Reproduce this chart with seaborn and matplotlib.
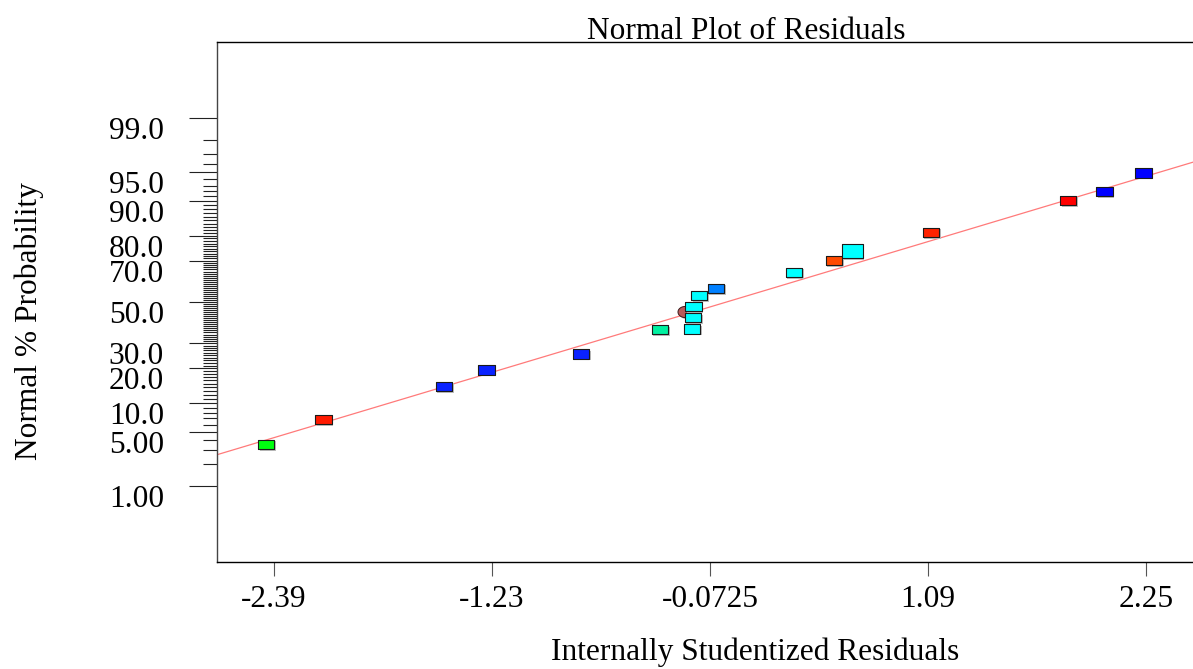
import numpy as np
import pandas as pd
import matplotlib
matplotlib.use("Agg")
import matplotlib.pyplot as plt
import matplotlib.patheffects as pe
from matplotlib.transforms import ScaledTranslation
import seaborn as sns
from statistics import NormalDist

# ---------------- data ----------------
resid = [-2.435, -2.129, -1.488, -1.261, -0.759, -0.339, -0.168, -0.163, -0.161,
         -0.131, -0.042, 0.373, 0.586, 1.102, 1.834, 2.026, 2.234]
prob = [3.55, 6.81, 14.26, 19.43, 25.49, 36.36, 36.6, 42.2, 47.8,
        53.4, 56.8, 64.6, 70.1, 81.1, 90.1, 91.9, 94.9]
colors = ["#00ff10", "#ff1a00", "#0a22ff", "#0a22ff", "#0a22ff", "#00f0a0", "#00ffff",
          "#00ffff", "#00ffff", "#00ffff", "#0080ff", "#00ffff", "#ff4a00", "#ff2200",
          "#ff0000", "#0000ff", "#0000ff"]

big_resid = [0.684]
big_prob = [74.1]
big_color = ["#00ffff"]

ell_resid = [-0.205]
ell_prob = [44.95]
ell_color = ["#b85a5a"]

line_x = [-2.70, 2.94]
line_intercept = -0.011   # in normal-score units
line_slope = 0.7139

x_ticks = [-2.3925, -1.2325, -0.0725, 1.0875, 2.2475]
x_labels = ["-2.39", "-1.23", "-0.0725", "1.09", "2.25"]
y_major = [1, 5, 10, 20, 30, 50, 70, 80, 90, 95, 99]
y_labels = ["1.00", "5.00", "10.0", "20.0", "30.0", "50.0", "70.0", "80.0", "90.0", "95.0", "99.0"]
y_minor = [p for p in range(1, 100) if p not in y_major]

# ---------------- style ----------------
sns.set_style("white")
plt.rcParams["font.family"] = ["Liberation Serif", "DejaVu Serif"]
plt.rcParams["text.color"] = "black"
plt.rcParams["axes.labelcolor"] = "black"
plt.rcParams["xtick.color"] = "black"
plt.rcParams["ytick.color"] = "black"
FS = 22.6

ND = NormalDist()
_ppf = np.vectorize(lambda q: ND.inv_cdf(q), otypes=[float])
_cdf = np.vectorize(lambda z: ND.cdf(z), otypes=[float])


def fwd(p):
    q = np.clip(np.asarray(p, dtype=float) / 100.0, 1e-12, 1 - 1e-12)
    return _ppf(q)


def inv(z):
    return _cdf(np.asarray(z, dtype=float)) * 100.0


W, H = 1193, 669
fig = plt.figure(figsize=(W / 100, H / 100), dpi=100)
ax_l, ax_r, ax_t, ax_b = 217, 1275, 42, 562
ax = fig.add_axes([ax_l / W, 1 - ax_b / H, (ax_r - ax_l) / W, (ax_b - ax_t) / H])

ax.set_yscale("function", functions=(fwd, inv))

# reference line
lx = np.array(line_x)
ax.plot(lx, inv(line_intercept + line_slope * lx), color="#ff7a7a", lw=0.9, zorder=1)

shadow = [pe.SimplePatchShadow(offset=(1.2, -1.2), shadow_rgbFace="#bdbdbd", alpha=1.0), pe.Normal()]

# ellipse point (behind)
t = np.linspace(0, 2 * np.pi, 40)
ell_marker = np.column_stack([np.cos(t), 0.78 * np.sin(t)])
df_e = pd.DataFrame({"x": ell_resid, "y": ell_prob, "c": ell_color})
sns.scatterplot(data=df_e, x="x", y="y", hue="c", palette={c: c for c in ell_color},
                marker=ell_marker, s=105, edgecolor="#3a1a1a", linewidth=0.7,
                legend=False, ax=ax, zorder=2)

# regular rectangles
rect = [(-1, -0.575), (1, -0.575), (1, 0.575), (-1, 0.575), (-1, -0.575)]
df = pd.DataFrame({"x": resid, "y": prob, "c": colors})
sns.scatterplot(data=df, x="x", y="y", hue="c", palette={c: c for c in colors},
                marker=rect, s=138, edgecolor="#1a1a1a", linewidth=0.8,
                legend=False, ax=ax, zorder=3)

# large rectangle
rect_big = [(-1, -0.667), (1, -0.667), (1, 0.667), (-1, 0.667), (-1, -0.667)]
df_b = pd.DataFrame({"x": big_resid, "y": big_prob, "c": big_color})
sns.scatterplot(data=df_b, x="x", y="y", hue="c", palette={c: c for c in big_color},
                marker=rect_big, s=228, edgecolor="#1a1a1a", linewidth=0.8,
                legend=False, ax=ax, zorder=3)

for coll in ax.collections:
    coll.set_path_effects(shadow)

# axes limits
x0 = x_ticks[0] + (ax_l - 274) / 187.93
x1 = x_ticks[0] + (ax_r - 274) / 187.93
ax.set_xlim(x0, x1)
ax.set_ylim(inv(-3.295), inv(3.295))

ax.set_xticks(x_ticks)
ax.set_xticklabels(x_labels, fontsize=FS)
ax.set_yticks(y_major)
ax.set_yticklabels(y_labels, fontsize=FS)
ax.set_yticks(y_minor, minor=True)
ax.yaxis.set_minor_formatter(matplotlib.ticker.NullFormatter())
ax.xaxis.set_minor_locator(matplotlib.ticker.NullLocator())

ax.tick_params(axis="y", which="major", direction="out", length=20.2, width=0.8,
               color="#222222", labelcolor="black", pad=18, left=True)
ax.tick_params(axis="y", which="minor", direction="out", length=10.1, width=0.8,
               color="#222222", left=True)
ax.tick_params(axis="x", which="major", direction="out", length=10.1, width=0.8,
               color="#555555", labelcolor="black", pad=6.5, bottom=True)

for lab in ax.get_yticklabels():
    lab.set_transform(lab.get_transform() + ScaledTranslation(0, -10 / 100, fig.dpi_scale_trans))

for s in ["top", "bottom"]:
    ax.spines[s].set_color("black")
    ax.spines[s].set_linewidth(1.0)
ax.spines["left"].set_color("#444444")
ax.spines["left"].set_linewidth(1.0)
ax.spines["right"].set_visible(False)

ax.set_title("Normal Plot of Residuals", fontsize=FS, pad=2, color="black")
ax.set_xlabel("Internally Studentized Residuals", fontsize=FS, color="black")
ax.xaxis.set_label_coords(755 / W, 1 - 660 / H, transform=fig.transFigure)
ax.xaxis.label.set_va("baseline")
ax.set_ylabel("Normal % Probability", fontsize=FS, color="black")
ax.yaxis.set_label_coords(29 / W, 1 - 321.5 / H, transform=fig.transFigure)
ax.yaxis.label.set_va("center")
ax.yaxis.label.set_ha("center")

fig.savefig("out.png", dpi=100)
